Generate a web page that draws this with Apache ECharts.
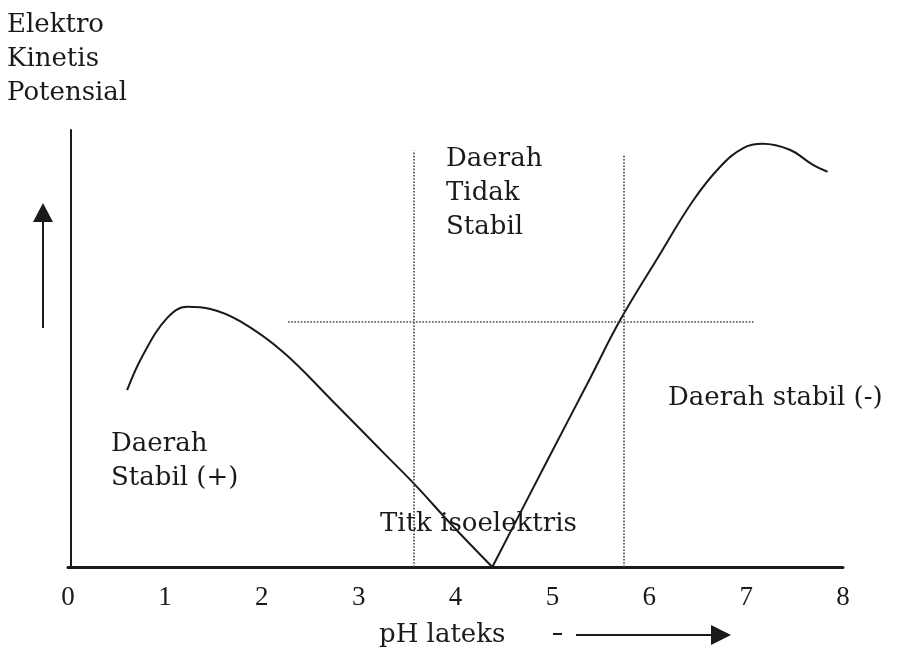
<!DOCTYPE html>
<html>
<head>
<meta charset="utf-8">
<script src="https://cdn.jsdelivr.net/npm/echarts@6/dist/echarts.min.js"></script>
<style>
  html, body { margin: 0; padding: 0; background: #fff; }
  #chart { width: 904px; height: 651px; }
</style>
</head>
<body>
<div id="chart"></div>
<script>
// pH ticks along the bottom axis
var phTicks = [0, 1, 2, 3, 4, 5, 6, 7, 8];

// curve, split at the isoelectric point so the V stays sharp
var leftPH = [0.61, 0.77, 1.02, 1.23, 1.47, 1.78, 2.22, 2.73, 3.25, 3.60, 3.94, 4.38];
var leftPot = [4.11, 4.91, 5.78, 6.05, 6.00, 5.71, 5.00, 3.86, 2.67, 1.87, 1.03, 0];
var rightPH = [4.38, 4.94, 5.39, 5.70, 6.08, 6.45, 6.73, 6.97, 7.17, 7.45, 7.69, 7.84];
var rightPot = [0, 2.44, 4.39, 5.74, 7.16, 8.51, 9.30, 9.74, 9.84, 9.70, 9.35, 9.19];

// dotted guides: unstable zone borders and the stability level
var zonePH = [3.57, 5.74];
var zoneTop = [9.68, 9.58];
var levelPot = 5.7;
var levelFrom = 2.27, levelTo = 7.09;

var serif = '"DejaVu Serif", serif';
var ink = '#1a1a1a';

function pairs(xs, ys) {
  return xs.map(function (x, i) { return [x, ys[i]]; });
}

var chart = echarts.init(document.getElementById('chart'));

var guides = zonePH.map(function (x, i) {
  return [{ coord: [x, 0] }, { coord: [x, zoneTop[i]] }];
});
guides.push([{ coord: [levelFrom, levelPot] }, { coord: [levelTo, levelPot] }]);

function txt(left, top, text, size) {
  return {
    type: 'text', left: left, top: top,
    style: { text: text, font: size + 'px ' + serif, fill: ink, lineHeight: 34 }
  };
}

chart.setOption({
  animation: false,
  backgroundColor: '#fff',
  grid: { left: 68, right: 61, top: 130, bottom: 84 },
  xAxis: {
    type: 'value', min: 0, max: 8, interval: 1,
    axisLine: { lineStyle: { color: ink, width: 3 } },
    axisTick: { show: false },
    splitLine: { show: false },
    axisLabel: {
      margin: 17, color: ink, fontSize: 27,
      fontFamily: '"Liberation Serif", serif',
      formatter: function (v) { return phTicks.indexOf(v) >= 0 ? String(v) : ''; }
    }
  },
  yAxis: {
    type: 'value', min: 0, max: 10.16, offset: -3,
    axisLine: { show: true, lineStyle: { color: ink, width: 2 } },
    axisTick: { show: false },
    axisLabel: { show: false },
    splitLine: { show: false }
  },
  series: [
    {
      type: 'line', data: pairs(leftPH, leftPot), smooth: 0.4,
      showSymbol: false, lineStyle: { color: ink, width: 2 },
      markLine: {
        silent: true, symbol: 'none', label: { show: false },
        lineStyle: { color: '#444', type: 'dotted', width: 1.6 },
        data: guides
      }
    },
    {
      type: 'line', data: pairs(rightPH, rightPot), smooth: 0.4,
      showSymbol: false, lineStyle: { color: ink, width: 2 }
    }
  ],
  graphic: [
    txt(7, 8, 'Elektro\nKinetis\nPotensial', 26),
    txt(446, 142, 'Daerah\nTidak\nStabil', 26),
    txt(111, 427, 'Daerah\nStabil (+)', 26),
    txt(668, 381, 'Daerah stabil (-)', 26),
    txt(380, 507, 'Titk isoelektris', 26),
    txt(379, 618, 'pH lateks', 26),
    // up arrow beside the potential axis
    { type: 'line', shape: { x1: 43, y1: 328, x2: 43, y2: 218 }, style: { stroke: ink, lineWidth: 2 } },
    { type: 'polygon', shape: { points: [[33, 222], [53, 222], [43, 203]] }, style: { fill: ink } },
    // right arrow after the pH label
    { type: 'line', shape: { x1: 553, y1: 634, x2: 562, y2: 634 }, style: { stroke: ink, lineWidth: 2 } },
    { type: 'line', shape: { x1: 576, y1: 635, x2: 714, y2: 635 }, style: { stroke: ink, lineWidth: 2 } },
    { type: 'polygon', shape: { points: [[711, 625], [711, 645], [731, 635]] }, style: { fill: ink } }
  ]
});
</script>
</body>
</html>
